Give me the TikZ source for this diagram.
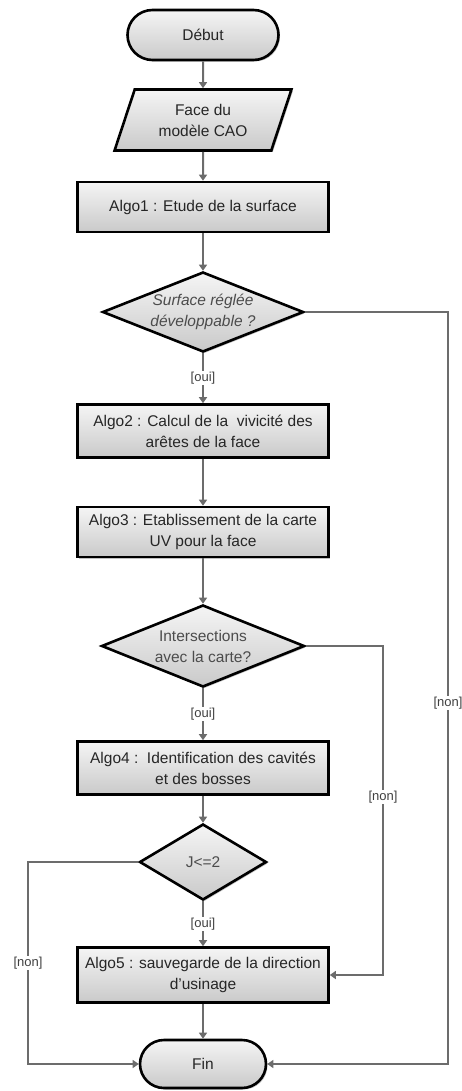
\documentclass[tikz,border=0pt]{standalone}
\usepackage{fontspec}
\setmainfont{Liberation Sans}
\usetikzlibrary{shapes.geometric,shapes.misc,arrows.meta,shadows}
\begin{document}
\begin{tikzpicture}[x=1pt,y=-1pt,
  base/.style={draw=black,line width=2.6pt,top color=gray!8,bottom color=gray!42,
    font=\fontsize{15.5}{21}\selectfont,text=black!85,align=center,inner sep=0pt,
    drop shadow={shadow xshift=1.5pt,shadow yshift=-1.5pt,fill=gray!60,opacity=0.8}},
  term/.style={base,rounded rectangle},
  proc/.style={base,rectangle,minimum width=251pt},
  io/.style={base,trapezium,trapezium left angle=68,trapezium right angle=112,trapezium stretches=true},
  dec/.style={base,diamond,shape aspect=2.5,text=black!70},
  conn/.style={draw=gray!85!black,line width=2pt,-{Triangle[width=8pt,length=6pt]}},
  lbl/.style={fill=white,inner sep=1pt,text=black!75,font=\fontsize{13}{15}\selectfont}
]
\useasboundingbox (0,0) rectangle (461,1091);
\node[term,minimum width=151pt,minimum height=50pt] (debut) at (203,35) {Début};
\node[io,minimum width=177pt,minimum height=61pt] (face) at (203,120) {Face du\\modèle CAO};
\node[proc,minimum height=50pt] (a1) at (203,207) {Algo1 : Etude de la surface};
\node[dec,minimum width=201pt,minimum height=80pt] (d1) at (203,312) {\itshape Surface réglée\\\itshape développable ?};
\node[proc,minimum height=53pt] (a2) at (203,431) {Algo2 : Calcul de la\ \ vivicité des\\arêtes de la face};
\node[proc,minimum height=50pt] (a3) at (203,532) {Algo3 : Etablissement de la carte\\UV pour la face};
\node[dec,minimum width=203pt,minimum height=82pt] (d2) at (203,646) {Intersections\\avec la carte?};
\node[proc,minimum height=53pt] (a4) at (203,768) {Algo4 :\ \ Identification des cavités\\et des bosses};
\node[dec,minimum width=127pt,minimum height=76pt] (d3) at (203,862) {J<=2};
\node[proc,minimum height=55pt] (a5) at (203,975) {Algo5 : sauvegarde de la direction\\d'usinage};
\node[term,minimum width=126pt,minimum height=48pt] (fin) at (203,1064) {Fin};

\coordinate (r1) at (448,312);
\coordinate (r1b) at (448,1064);
\coordinate (r2) at (383,646);
\coordinate (r2b) at (383,975);
\coordinate (l3) at (28,862);
\coordinate (l3b) at (28,1064);

\draw[conn] (debut) -- (face);
\draw[conn] (face) -- (a1);
\draw[conn] (a1) -- (d1);
\draw[conn] (d1) -- node[lbl,pos=0.5] (oui1) {[oui]} (a2);
\draw[conn] (a2) -- (a3);
\draw[conn] (a3) -- (d2);
\draw[conn] (d2) -- node[lbl,pos=0.5] (oui2) {[oui]} (a4);
\draw[conn] (a4) -- (d3);
\draw[conn] (d3) -- node[lbl,pos=0.5] (oui3) {[oui]} (a5);
\draw[conn] (a5) -- (fin);
\draw[conn] (d1.east) -- (r1) -- node[lbl,pos=0.52] (non1) {[non]} (r1b) -- (fin.east);
\draw[conn] (d2.east) -- (r2) -- node[lbl,pos=0.46] (non2) {[non]} (r2b) -- (a5.east);
\draw[conn] (d3.west) -- (l3) -- node[lbl,pos=0.5] (non3) {[non]} (l3b) -- (fin.west);
\end{tikzpicture}
\end{document}
